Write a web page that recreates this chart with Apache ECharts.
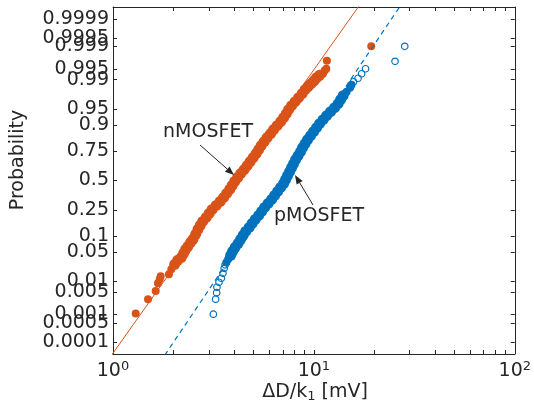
<!DOCTYPE html>
<html><head><meta charset="utf-8">
<script src="https://cdn.jsdelivr.net/npm/echarts@6/dist/echarts.min.js"></script>
<style>html,body{margin:0;padding:0;background:#fff}#c{width:534px;height:409px}</style>
</head><body><div id="c"></div>
<script>
// ---- data (x in mV, y as standard-normal quantile of the cumulative probability) ----
const probTicks = [0.0001,0.0005,0.001,0.005,0.01,0.05,0.1,0.25,0.5,0.75,0.9,0.95,0.99,0.995,0.999,0.9995,0.9999];
const probTickLabels = ['0.0001','0.0005','0.001','0.005','0.01','0.05','0.1','0.25','0.5','0.75','0.9','0.95','0.99','0.995','0.999','0.9995','0.9999'];
const xMajorTicks = [1,10,100];
const xMinorTicks = [2,3,4,5,6,7,8,9,20,30,40,50,60,70,80,90];

const nmosX = [1.297,1.494,1.631,1.674,1.708,1.727,1.899,1.952,2.028,2.099,2.189,2.247,2.300,2.361,2.435,2.500,2.579,2.648,2.716,2.795,2.909,3.010,3.115,3.262,3.415,3.555,3.680,3.808,3.918,4.032,4.173,4.319,4.496,4.654,4.817,4.985,5.159,5.309,5.465,5.656,5.851,6.090,6.302,6.560,6.828,7.068,7.290,7.484,7.745,8.063,8.393,8.737,9.042,9.357,9.685,10.02,10.31,10.67,11.09,11.30,11.53,11.61,19.30];
const nmosQuantile = [-3.066,-2.737,-2.546,-2.369,-2.277,-2.208,-2.162,-2.047,-1.932,-1.840,-1.771,-1.679,-1.587,-1.518,-1.426,-1.357,-1.242,-1.127,-1.035,-0.943,-0.851,-0.759,-0.667,-0.575,-0.483,-0.391,-0.299,-0.207,-0.115,-0.023,0.069,0.161,0.253,0.345,0.437,0.529,0.621,0.713,0.805,0.897,0.989,1.081,1.173,1.265,1.357,1.449,1.541,1.633,1.725,1.817,1.909,2.001,2.093,2.162,2.231,2.300,2.369,2.426,2.461,2.530,2.576,2.760,3.093];

const pmosX = [3.666,3.742,3.852,3.941,4.055,4.197,4.319,4.444,4.574,4.761,4.927,5.101,5.309,5.494,5.685,5.918,6.160,6.375,6.598,6.828,7.068,7.232,7.399,7.570,7.745,7.925,8.110,8.345,8.587,8.786,9.042,9.305,9.630,9.966,10.31,10.67,11.11,11.57,12.11,12.68,13.20,13.58,13.98,14.55,15.14,15.40];
const pmosQuantile = [-1.893,-1.817,-1.725,-1.633,-1.541,-1.449,-1.357,-1.265,-1.173,-1.081,-0.989,-0.897,-0.805,-0.713,-0.621,-0.529,-0.437,-0.345,-0.253,-0.161,-0.069,0.023,0.115,0.207,0.299,0.391,0.483,0.575,0.667,0.759,0.851,0.943,1.035,1.127,1.219,1.311,1.403,1.495,1.587,1.679,1.771,1.863,1.955,2.047,2.139,2.208];

const pmosTailX = [3.159,3.243,3.281,3.292,3.369,3.462,3.526,3.575,3.616,15.76,16.59,17.28,18.08,25.35,28.33];
const pmosTailQuantile = [-3.082,-2.737,-2.587,-2.461,-2.346,-2.254,-2.139,-2.024,-1.943,2.277,2.357,2.461,2.576,2.748,3.093];

// lognormal fits: mean and std-dev of log10(x)
const nmosFitMu = 0.609, nmosFitSigma = 0.153;
const pmosFitMu = 0.844, pmosFitSigma = 0.1456;

// ---- helpers ----
function probit(p){
  const a=[-3.969683028665376e+01,2.209460984245205e+02,-2.759285104469687e+02,1.383577518672690e+02,-3.066479806614716e+01,2.506628277459239e+00];
  const b=[-5.447609879822406e+01,1.615858368580409e+02,-1.556989798598866e+02,6.680131188771972e+01,-1.328068155288572e+01];
  const c=[-7.784894002430293e-03,-3.223964580411365e-01,-2.400758277161838e+00,-2.549732539343734e+00,4.374664141464968e+00,2.938163982698783e+00];
  const d=[7.784695709041462e-03,3.224671290700398e-01,2.445134137142996e+00,3.754408661907416e+00];
  const pl=0.02425, ph=1-pl; let q,r;
  if(p<pl){q=Math.sqrt(-2*Math.log(p));return (((((c[0]*q+c[1])*q+c[2])*q+c[3])*q+c[4])*q+c[5])/((((d[0]*q+d[1])*q+d[2])*q+d[3])*q+1);}
  if(p>ph){q=Math.sqrt(-2*Math.log(1-p));return -(((((c[0]*q+c[1])*q+c[2])*q+c[3])*q+c[4])*q+c[5])/((((d[0]*q+d[1])*q+d[2])*q+d[3])*q+1);}
  q=p-0.5;r=q*q;return (((((a[0]*r+a[1])*r+a[2])*r+a[3])*r+a[4])*r+a[5])*q/(((((b[0]*r+b[1])*r+b[2])*r+b[3])*r+b[4])*r+1);
}
const zip = (xs, ys) => xs.map((x,i)=>[x, ys[i]]);
const fitLine = (mu, s) => [-4.2, 4.2].map(z => [Math.pow(10, mu + z*s), z]);
const yTickZ = probTicks.map(probit);
const yLabel = v => { let bi=0, bd=1e9; yTickZ.forEach((z,i)=>{const d=Math.abs(z-v); if(d<bd){bd=d;bi=i;}}); return probTickLabels[bi]; };
// labels that the axis would drop as overlapping its end labels are drawn separately
const extraLabelIdx = [1, 15];
const axisLabelZ = yTickZ.filter((z,i)=>extraLabelIdx.indexOf(i) < 0);

const TXT = '#262626', RED = '#D95319', BLUE = '#0072BD', FONT = 'DejaVu Sans';
const allXTicks = xMajorTicks.concat(xMinorTicks).sort((a,b)=>a-b);

function arrow(x1,y1,x2,y2){
  const dx=x2-x1, dy=y2-y1, L=Math.hypot(dx,dy), ux=dx/L, uy=dy/L, hl=9, hw=3.5;
  const bx=x2-ux*hl, by=y2-uy*hl;
  return [
    {type:'line', z:100, shape:{x1:x1,y1:y1,x2:bx,y2:by}, style:{stroke:TXT, lineWidth:1}},
    {type:'polygon', z:100, shape:{points:[[x2,y2],[bx-uy*hw,by+ux*hw],[bx+uy*hw,by-ux*hw]]}, style:{fill:TXT}}
  ];
}

const xAxisBase = {
  type:'log', logBase:10, min:1, max:100,
  axisLine:{show:true, onZero:false, lineStyle:{color:TXT, width:1}},
  axisTick:{show:true, inside:true, length:4, customValues:allXTicks, lineStyle:{color:TXT, width:1}},
  minorTick:{show:false}, splitLine:{show:false}
};
const yAxisBase = {
  type:'value', min:-4, max:4,
  axisLine:{show:true, onZero:false, lineStyle:{color:TXT, width:1}},
  axisTick:{show:true, inside:true, length:4, customValues:yTickZ, lineStyle:{color:TXT, width:1}},
  splitLine:{show:false}
};

const chart = echarts.init(document.getElementById('c'), null, {renderer:'canvas'});
const graphics = [
  {type:'text', z:100, x:18, y:160, rotation:Math.PI/2, style:{text:'Probability', font:'19px "DejaVu Sans"', fill:TXT, align:'center', verticalAlign:'middle'}},
  {type:'text', z:100, x:315, y:392, style:{text:'{a|ΔD/k}{s|1}{a| [mV]}', align:'center', verticalAlign:'middle', fill:TXT,
    rich:{a:{fontSize:19, fontFamily:FONT, fill:TXT, lineHeight:22}, s:{fontSize:13, fontFamily:FONT, fill:TXT, lineHeight:14, verticalAlign:'bottom'}}}},
  {type:'text', z:100, x:208, y:132, style:{text:'nMOSFET', font:'19px "DejaVu Sans"', fill:TXT, align:'center', verticalAlign:'middle'}},
  {type:'text', z:100, x:319, y:216, style:{text:'pMOSFET', font:'19px "DejaVu Sans"', fill:TXT, align:'center', verticalAlign:'middle'}}
].concat(arrow(200,145,234,175), arrow(313,205,295,175));

chart.setOption({
  animation:false,
  backgroundColor:'#fff',
  textStyle:{fontFamily:FONT},
  grid:{left:113, right:19, top:7, bottom:55, containLabel:false},
  xAxis:[
    Object.assign({}, xAxisBase, {position:'bottom',
      axisLabel:{show:true, customValues:xMajorTicks, showMinLabel:true, showMaxLabel:true, hideOverlap:false, margin:6, color:TXT, fontFamily:FONT,
        formatter: v => '{b|10}{s|' + Math.round(Math.log10(v)) + '}',
        rich:{b:{fontSize:19, fontFamily:FONT, color:TXT, lineHeight:22}, s:{fontSize:13, fontFamily:FONT, color:TXT, lineHeight:14, verticalAlign:'top'}}}}),
    Object.assign({}, xAxisBase, {position:'top', axisLabel:{show:false}})
  ],
  yAxis:[
    Object.assign({}, yAxisBase, {position:'left',
      axisLabel:{show:true, customValues:axisLabelZ, showMinLabel:true, showMaxLabel:true, hideOverlap:false, margin:4, color:TXT, fontFamily:FONT, fontSize:19, formatter: yLabel}}),
    Object.assign({}, yAxisBase, {position:'right', axisLabel:{show:false}})
  ],
  series:[
    {type:'scatter', name:'nMOSFET', data:zip(nmosX, nmosQuantile), symbol:'circle',
      symbolSize: v => (v[0] < 2.0 || v[0] > 11.0) ? 8 : 11, itemStyle:{color:RED, opacity:1}},
    {type:'line', data:fitLine(nmosFitMu, nmosFitSigma), showSymbol:false, clip:true, lineStyle:{color:RED, width:1}},
    {type:'scatter', name:'pMOSFET', data:zip(pmosX, pmosQuantile), symbol:'circle',
      symbolSize: v => (v[0] < 3.8 || v[0] > 14.0) ? 8 : 11, itemStyle:{color:BLUE, opacity:1}},
    {type:'scatter', name:'pMOSFET tails', data:zip(pmosTailX, pmosTailQuantile), symbol:'circle', symbolSize:6.5, itemStyle:{color:'rgba(255,255,255,0)', borderColor:BLUE, borderWidth:1.2, opacity:1}},
    {type:'line', data:fitLine(pmosFitMu, pmosFitSigma), showSymbol:false, clip:true, lineStyle:{color:BLUE, width:1.2, type:[5,4]}}
  ],
  graphic: graphics
});

// the two crowded tick labels, placed through the y axis scale
const x0 = chart.convertToPixel({xAxisIndex:0}, 1);
extraLabelIdx.forEach(i => {
  const py = chart.convertToPixel({yAxisIndex:0}, yTickZ[i]);
  graphics.push({type:'text', z:50, x:x0 - 4, y:py, style:{text:probTickLabels[i], font:'19px "DejaVu Sans"', fill:TXT, align:'right', verticalAlign:'middle'}});
});
chart.setOption({graphic: graphics}, {replaceMerge:['graphic']});
</script></body></html>
